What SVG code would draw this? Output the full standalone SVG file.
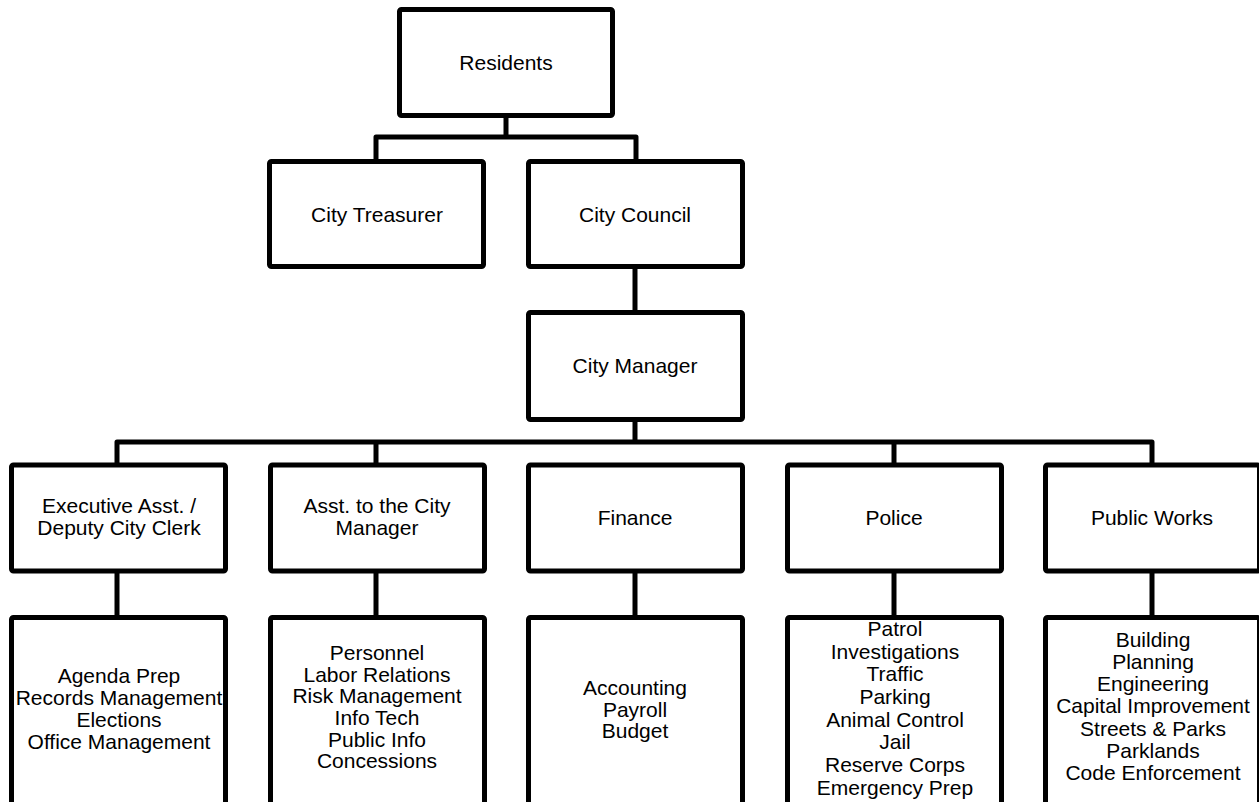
<svg xmlns="http://www.w3.org/2000/svg" width="1259" height="802" viewBox="0 0 1259 802">
<style>
.box{fill:#fff;stroke:#000;stroke-width:5;stroke-linejoin:round}
.con{fill:none;stroke:#000;stroke-width:5;stroke-linejoin:round}
text{font-family:"Liberation Sans",Arial,sans-serif;font-size:21px;fill:#000;text-anchor:middle}
</style>
<rect width="1259" height="802" fill="#fff"/>
<g id="connectors">
<path class="con" d="M506,118 V137 M376,159 V137 H636 V159"/>
<path class="con" d="M635,269 V310"/>
<path class="con" d="M635,422 V442 M117,463 V442 H1152 V463 M376,442 V463 M894,442 V463"/>
<path class="con" d="M117,573 V615 M376,573 V615 M635,573 V615 M894,573 V615 M1152,573 V615"/>
</g>
<g id="residents"><rect class="box" x="399.5" y="9.5" width="213" height="106" rx="2"/><text x="506" y="70">Residents</text></g>
<g id="treasurer"><rect class="box" x="269.5" y="161.5" width="214" height="105" rx="2"/><text x="377" y="222">City Treasurer</text></g>
<g id="council"><rect class="box" x="528.5" y="161.5" width="214" height="105" rx="2"/><text x="635" y="222">City Council</text></g>
<g id="manager"><rect class="box" x="528.5" y="312.5" width="214" height="107" rx="2"/><text x="635" y="373">City Manager</text></g>
<g id="exec"><rect class="box" x="11.5" y="465" width="214" height="106" rx="2"/><text x="119" y="513">Executive Asst. /</text><text x="119" y="535">Deputy City Clerk</text></g>
<g id="asst"><rect class="box" x="270.5" y="465" width="214" height="106" rx="2"/><text x="377" y="513">Asst. to the City</text><text x="377" y="535">Manager</text></g>
<g id="finance"><rect class="box" x="528.5" y="465" width="214" height="106" rx="2"/><text x="635" y="525">Finance</text></g>
<g id="police"><rect class="box" x="787.5" y="465" width="214" height="106" rx="2"/><text x="894" y="525">Police</text></g>
<g id="publicworks"><rect class="box" x="1045.5" y="465" width="214" height="106" rx="2"/><text x="1152" y="525">Public Works</text></g>
<g id="exec-duties"><rect class="box" x="11.5" y="617.5" width="214" height="200" rx="2"/>
<text x="119" y="683">Agenda Prep</text><text x="119" y="705">Records Management</text><text x="119" y="727">Elections</text><text x="119" y="749">Office Management</text></g>
<g id="asst-duties"><rect class="box" x="270.5" y="617.5" width="214" height="200" rx="2"/>
<text x="377" y="660">Personnel</text><text x="377" y="682">Labor Relations</text><text x="377" y="703">Risk Management</text><text x="377" y="725">Info Tech</text><text x="377" y="747">Public Info</text><text x="377" y="768">Concessions</text></g>
<g id="finance-duties"><rect class="box" x="528.5" y="617.5" width="214" height="200" rx="2"/>
<text x="635" y="695">Accounting</text><text x="635" y="717">Payroll</text><text x="635" y="738">Budget</text></g>
<g id="police-duties"><rect class="box" x="787.5" y="617.5" width="214" height="200" rx="2"/>
<text x="895" y="636">Patrol</text><text x="895" y="659">Investigations</text><text x="895" y="681">Traffic</text><text x="895" y="704">Parking</text><text x="895" y="727">Animal Control</text><text x="895" y="749">Jail</text><text x="895" y="772">Reserve Corps</text><text x="895" y="795">Emergency Prep</text></g>
<g id="pw-duties"><rect class="box" x="1045.5" y="617.5" width="214" height="200" rx="2"/>
<text x="1153" y="647">Building</text><text x="1153" y="669">Planning</text><text x="1153" y="691">Engineering</text><text x="1153" y="713">Capital Improvement</text><text x="1153" y="736">Streets &amp; Parks</text><text x="1153" y="758">Parklands</text><text x="1153" y="780">Code Enforcement</text></g>
</svg>
